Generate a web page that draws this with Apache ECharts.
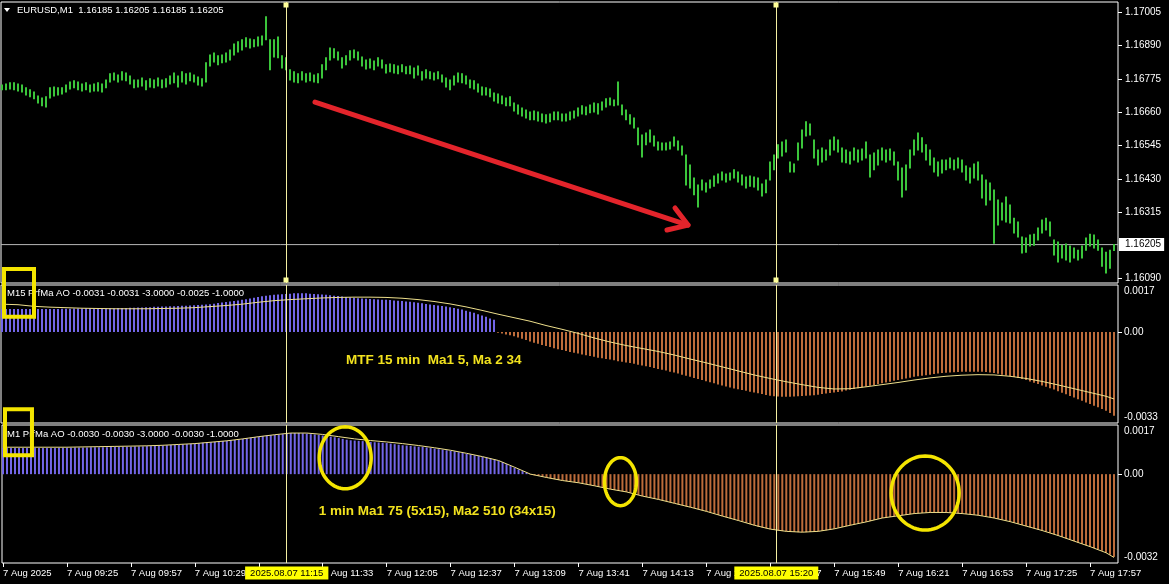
<!DOCTYPE html>
<html><head><meta charset="utf-8">
<script src="https://cdn.jsdelivr.net/npm/echarts@6/dist/echarts.min.js"></script>
<style>html,body{margin:0;padding:0;background:#000}#c{width:1169px;height:584px}</style>
</head><body><div id="c"></div>
<script>
// ---------------- DATA ----------------
const symbolTitle = 'EURUSD,M1  1.16185 1.16205 1.16185 1.16205';
const pane2Title = 'M15 PrfMa AO -0.0031 -0.0031 -3.0000 -0.0025 -1.0000';
const pane3Title = 'M1 PrfMa AO -0.0030 -0.0030 -3.0000 -0.0030 -1.0000';
const sessionStart = '08:53';
const barStepMin = 2;
const barHigh = [
1.16754,1.16757,1.16761,1.16761,1.16757,1.16754,1.16744,1.16737,1.16730,1.16716,
1.16709,1.16713,1.16744,1.16747,1.16744,1.16744,1.16754,1.16764,1.16768,1.16764,
1.16757,1.16761,1.16754,1.16757,1.16761,1.16757,1.16771,1.16792,1.16795,1.16788,
1.16799,1.16795,1.16785,1.16771,1.16771,1.16778,1.16768,1.16775,1.16771,1.16778,
1.16771,1.16775,1.16785,1.16795,1.16785,1.16799,1.16792,1.16795,1.16788,1.16781,
1.16775,1.16830,1.16857,1.16864,1.16854,1.16857,1.16864,1.16874,1.16895,1.16902,
1.16909,1.16916,1.16912,1.16909,1.16919,1.16922,1.16988,1.16909,1.16909,1.16919,
1.16854,1.16847,1.16806,1.16799,1.16792,1.16799,1.16792,1.16795,1.16788,1.16792,
1.16823,1.16847,1.16881,1.16878,1.16867,1.16847,1.16854,1.16871,1.16874,1.16867,
1.16850,1.16840,1.16843,1.16836,1.16847,1.16840,1.16823,1.16826,1.16823,1.16819,
1.16823,1.16816,1.16819,1.16812,1.16819,1.16799,1.16806,1.16799,1.16795,1.16799,
1.16788,1.16778,1.16771,1.16785,1.16795,1.16792,1.16785,1.16771,1.16768,1.16757,
1.16747,1.16744,1.16740,1.16726,1.16723,1.16716,1.16709,1.16713,1.16692,1.16685,
1.16675,1.16668,1.16661,1.16664,1.16661,1.16654,1.16651,1.16654,1.16661,1.16661,
1.16654,1.16654,1.16661,1.16664,1.16675,1.16682,1.16678,1.16685,1.16692,1.16689,
1.16695,1.16706,1.16709,1.16702,1.16764,1.16685,1.16668,1.16651,1.16640,1.16606,
1.16582,1.16589,1.16599,1.16578,1.16558,1.16554,1.16554,1.16558,1.16575,1.16561,
1.16544,1.16513,1.16479,1.16434,1.16410,1.16427,1.16417,1.16427,1.16441,1.16448,
1.16455,1.16448,1.16451,1.16462,1.16455,1.16444,1.16437,1.16441,1.16437,1.16434,
1.16413,1.16427,1.16489,1.16513,1.16548,1.16558,1.16565,1.16489,1.16482,1.16554,
1.16599,1.16627,1.16620,1.16565,1.16530,1.16537,1.16530,1.16565,1.16575,1.16565,
1.16537,1.16530,1.16523,1.16537,1.16530,1.16534,1.16558,1.16513,1.16520,1.16530,
1.16537,1.16530,1.16534,1.16523,1.16489,1.16468,1.16479,1.16530,1.16565,1.16589,
1.16572,1.16548,1.16530,1.16503,1.16489,1.16496,1.16496,1.16503,1.16496,1.16503,
1.16496,1.16475,1.16468,1.16482,1.16489,1.16444,1.16427,1.16417,1.16393,1.16358,
1.16348,1.16369,1.16341,1.16296,1.16283,1.16231,1.16228,1.16238,1.16241,1.16262,
1.16290,1.16296,1.16283,1.16221,1.16214,1.16203,1.16207,1.16200,1.16193,1.16186,
1.16200,1.16228,1.16241,1.16238,1.16221,1.16193,1.16179,1.16186,1.16205];
const barLow = [
1.16737,1.16737,1.16740,1.16737,1.16733,1.16730,1.16719,1.16713,1.16706,1.16692,
1.16682,1.16678,1.16709,1.16716,1.16719,1.16723,1.16730,1.16740,1.16744,1.16737,
1.16733,1.16737,1.16730,1.16733,1.16733,1.16730,1.16744,1.16764,1.16771,1.16764,
1.16771,1.16768,1.16757,1.16744,1.16747,1.16750,1.16737,1.16747,1.16744,1.16750,
1.16744,1.16747,1.16757,1.16761,1.16747,1.16764,1.16757,1.16768,1.16764,1.16754,
1.16750,1.16764,1.16819,1.16833,1.16823,1.16830,1.16833,1.16840,1.16857,1.16867,
1.16874,1.16885,1.16881,1.16885,1.16888,1.16891,1.16909,1.16806,1.16850,1.16847,
1.16812,1.16806,1.16771,1.16764,1.16761,1.16771,1.16764,1.16768,1.16764,1.16761,
1.16778,1.16806,1.16840,1.16847,1.16840,1.16812,1.16823,1.16840,1.16847,1.16840,
1.16819,1.16809,1.16812,1.16806,1.16819,1.16812,1.16795,1.16799,1.16795,1.16792,
1.16799,1.16792,1.16792,1.16778,1.16788,1.16771,1.16778,1.16775,1.16771,1.16775,
1.16764,1.16747,1.16737,1.16754,1.16764,1.16761,1.16757,1.16744,1.16740,1.16730,
1.16719,1.16719,1.16713,1.16699,1.16692,1.16689,1.16682,1.16682,1.16664,1.16654,
1.16647,1.16640,1.16634,1.16634,1.16630,1.16627,1.16623,1.16627,1.16634,1.16634,
1.16630,1.16630,1.16634,1.16640,1.16647,1.16654,1.16651,1.16658,1.16661,1.16654,
1.16668,1.16678,1.16685,1.16682,1.16685,1.16651,1.16634,1.16620,1.16606,1.16548,
1.16506,1.16548,1.16558,1.16544,1.16530,1.16530,1.16530,1.16534,1.16544,1.16530,
1.16513,1.16410,1.16400,1.16376,1.16334,1.16393,1.16386,1.16400,1.16406,1.16417,
1.16427,1.16420,1.16427,1.16434,1.16420,1.16410,1.16400,1.16406,1.16403,1.16393,
1.16372,1.16383,1.16427,1.16462,1.16503,1.16510,1.16523,1.16455,1.16455,1.16496,
1.16537,1.16578,1.16582,1.16503,1.16479,1.16489,1.16496,1.16513,1.16530,1.16523,
1.16489,1.16486,1.16482,1.16496,1.16489,1.16496,1.16503,1.16437,1.16462,1.16479,
1.16496,1.16489,1.16496,1.16479,1.16427,1.16369,1.16393,1.16468,1.16513,1.16530,
1.16523,1.16496,1.16479,1.16455,1.16441,1.16451,1.16462,1.16468,1.16462,1.16468,
1.16455,1.16427,1.16417,1.16434,1.16427,1.16365,1.16341,1.16358,1.16210,1.16272,
1.16290,1.16283,1.16279,1.16245,1.16231,1.16176,1.16179,1.16200,1.16203,1.16221,
1.16245,1.16255,1.16235,1.16169,1.16145,1.16159,1.16152,1.16145,1.16159,1.16152,
1.16159,1.16186,1.16200,1.16193,1.16186,1.16131,1.16107,1.16124,1.16185];
const lastPrice = 1.16205;
const priceTicks = [1.16090, 1.16315, 1.16430, 1.16545, 1.16660, 1.16775, 1.16890, 1.17005];

// M15 (multi-timeframe) oscillator, one histogram value per price bar
const m15Hist = [
0.00085,0.00085,0.00085,0.00085,0.00085,0.00085,0.00085,0.00085,
0.00085,0.00085,0.00085,0.00085,0.00085,0.00085,0.00085,
0.00086,0.00086,0.00086,0.00087,0.00087,0.00087,0.00088,0.00088,
0.00088,0.00088,0.00088,0.00088,0.00088,0.00088,0.00089,
0.00089,0.00089,0.00090,0.00090,0.00091,0.00091,0.00092,0.00092,
0.00093,0.00093,0.00094,0.00094,0.00095,0.00095,0.00096,
0.00097,0.00097,0.00098,0.00099,0.00100,0.00101,0.00102,0.00103,
0.00105,0.00107,0.00109,0.00111,0.00113,0.00115,0.00117,
0.00119,0.00121,0.00124,0.00127,0.00130,0.00132,0.00134,0.00136,
0.00138,0.00139,0.00140,0.00141,0.00142,0.00143,0.00143,
0.00143,0.00143,0.00142,0.00141,0.00140,0.00139,0.00138,0.00136,
0.00134,0.00133,0.00131,0.00130,0.00128,0.00127,0.00125,
0.00124,0.00123,0.00122,0.00121,0.00120,0.00119,0.00119,0.00118,
0.00117,0.00116,0.00115,0.00113,0.00112,0.00110,0.00108,
0.00106,0.00104,0.00102,0.00100,0.00098,0.00096,0.00094,0.00092,
0.00089,0.00086,0.00083,0.00079,0.00075,0.00071,0.00066,
0.00061,0.00056,0.00050,0.00045,
-0.00003,-0.00006,-0.00009,-0.00012,
-0.00016,-0.00020,-0.00025,-0.00030,-0.00035,-0.00040,-0.00044,
-0.00048,-0.00052,-0.00056,-0.00060,-0.00064,-0.00067,-0.00070,
-0.00074,-0.00077,-0.00080,-0.00083,-0.00086,-0.00089,-0.00092,-0.00095,
-0.00097,-0.00100,-0.00102,-0.00105,-0.00108,-0.00110,-0.00113,
-0.00115,-0.00118,-0.00121,-0.00124,-0.00127,-0.00130,-0.00133,-0.00137,
-0.00140,-0.00143,-0.00147,-0.00150,-0.00154,-0.00158,-0.00162,
-0.00166,-0.00170,-0.00174,-0.00178,-0.00182,-0.00186,-0.00190,-0.00194,
-0.00198,-0.00202,-0.00206,-0.00209,-0.00212,-0.00215,-0.00218,
-0.00221,-0.00224,-0.00227,-0.00230,-0.00233,-0.00236,-0.00238,-0.00239,
-0.00240,-0.00240,-0.00240,-0.00239,-0.00238,-0.00237,-0.00236,
-0.00235,-0.00234,-0.00232,-0.00230,-0.00228,-0.00226,-0.00224,-0.00222,
-0.00220,-0.00217,-0.00214,-0.00211,-0.00208,-0.00205,-0.00202,
-0.00199,-0.00196,-0.00193,-0.00190,-0.00187,-0.00184,-0.00181,-0.00178,
-0.00175,-0.00172,-0.00169,-0.00166,-0.00164,-0.00162,-0.00160,
-0.00158,-0.00156,-0.00154,-0.00152,-0.00151,-0.00150,-0.00149,-0.00148,
-0.00147,-0.00147,-0.00147,-0.00147,-0.00147,-0.00147,-0.00148,
-0.00150,-0.00152,-0.00155,-0.00158,-0.00161,-0.00164,-0.00167,-0.00170,
-0.00174,-0.00178,-0.00183,-0.00188,-0.00193,-0.00198,-0.00203,
-0.00208,-0.00213,-0.00219,-0.00225,-0.00231,-0.00237,-0.00243,-0.00249,
-0.00255,-0.00261,-0.00267,-0.00273,-0.00279,-0.00285,-0.00292,-0.00300,-0.00310];
const m15LineStepMin = 8;
const m15Line = [0.00103,0.00101,0.00095,0.00092,0.00090,0.00088,0.00087,0.00086,0.00086,0.00086,
 0.00087,0.00088,0.00090,0.00094,0.00098,0.00103,0.00110,0.00116,0.00120,0.00123,
 0.00126,0.00128,0.00129,0.00129,0.00128,0.00125,0.00120,0.00113,0.00104,0.00093,
 0.00080,0.00066,0.00053,0.00040,0.00024,0.00010,-0.00005,-0.00022,-0.00037,-0.00050,
 -0.00061,-0.00072,-0.00085,-0.00100,-0.00114,-0.00129,-0.00144,-0.00159,-0.00172,-0.00184,
 -0.00195,-0.00205,-0.00211,-0.00210,-0.00203,-0.00195,-0.00187,-0.00178,-0.00170,-0.00164,
 -0.00160,-0.00158,-0.00159,-0.00164,-0.00172,-0.00183,-0.00196,-0.00210,-0.00224,-0.00238,-0.00248];

// M1 oscillator histogram: one value per price bar
const m1Hist = [
0.00094,0.00094,0.00094,0.00094,0.00094,0.00094,0.00094,0.00094,0.00094,0.00094,0.00094,0.00094,
0.00094,0.00094,0.00095,0.00095,0.00095,0.00095,0.00096,0.00096,0.00096,0.00096,0.00097,0.00097,0.00097,
0.00097,0.00097,0.00098,0.00098,0.00098,0.00099,0.00099,0.00099,0.00100,0.00100,0.00100,0.00101,
0.00101,0.00102,0.00102,0.00103,0.00104,0.00105,0.00105,0.00106,0.00107,0.00108,0.00109,0.00110,0.00111,
0.00113,0.00114,0.00115,0.00116,0.00118,0.00119,0.00120,0.00122,
0.00123,0.00125,0.00127,0.00129,0.00131,0.00133,0.00135,0.00137,
0.00139,0.00140,0.00141,0.00142,0.00144,0.00146,0.00148,
0.00148,0.00148,0.00147,0.00146,0.00144,
0.00143,0.00141,0.00139,0.00137,0.00135,0.00133,0.00130,0.00127,0.00124,
0.00122,0.00121,0.00120,0.00119,0.00118,0.00116,0.00115,0.00114,0.00113,0.00112,0.00110,0.00108,0.00106,
0.00104,0.00103,0.00102,0.00100,0.00099,0.00098,0.00096,0.00094,
0.00092,0.00090,0.00088,0.00086,0.00084,0.00082,0.00079,0.00076,
0.00073,0.00071,0.00068,0.00065,0.00062,0.00059,0.00056,0.00053,
0.00048,0.00043,0.00036,0.00029,0.00023,0.00017,0.00011,0.00005,
-0.00002,-0.00004,-0.00006,-0.00009,-0.00012,-0.00015,-0.00018,-0.00021,
-0.00023,-0.00025,-0.00027,-0.00029,-0.00031,-0.00033,-0.00036,-0.00039,-0.00042,-0.00045,
-0.00048,-0.00051,-0.00054,-0.00057,-0.00059,-0.00061,-0.00064,-0.00067,-0.00071,-0.00075,
-0.00079,-0.00082,-0.00085,-0.00088,-0.00091,-0.00094,-0.00097,-0.00101,-0.00105,-0.00109,
-0.00112,-0.00116,-0.00119,-0.00122,-0.00126,-0.00130,-0.00134,-0.00138,-0.00142,-0.00147,
-0.00151,-0.00155,-0.00159,-0.00163,-0.00167,-0.00171,-0.00175,-0.00180,-0.00184,-0.00189,
-0.00192,-0.00195,-0.00198,-0.00201,-0.00203,-0.00205,-0.00206,-0.00207,-0.00208,-0.00209,
-0.00209,-0.00209,-0.00208,-0.00207,-0.00206,-0.00204,-0.00202,-0.00200,-0.00197,-0.00193,
-0.00190,-0.00187,-0.00184,-0.00181,-0.00178,-0.00175,-0.00172,-0.00169,-0.00165,-0.00161,
-0.00158,-0.00156,-0.00154,-0.00152,-0.00150,-0.00148,-0.00146,-0.00144,-0.00142,-0.00141,
-0.00140,-0.00139,-0.00138,-0.00137,-0.00137,-0.00137,-0.00138,-0.00139,-0.00140,-0.00141,
-0.00142,-0.00143,-0.00144,-0.00146,-0.00148,-0.00150,-0.00152,-0.00155,-0.00158,-0.00161,
-0.00164,-0.00167,-0.00171,-0.00175,-0.00179,-0.00183,-0.00187,-0.00191,-0.00195,-0.00199,
-0.00203,-0.00207,-0.00211,-0.00216,-0.00221,-0.00226,-0.00231,-0.00236,-0.00241,-0.00246,
-0.00251,-0.00256,-0.00261,-0.00266,-0.00271,-0.00276,-0.00283,-0.00290,-0.00298];
const m1LineStepMin = 8;
const m1Line = [0.00097,0.00097,0.00097,0.00097,0.00097,0.00098,0.00099,0.00100,0.00101,0.00102,
 0.00104,0.00107,0.00110,0.00115,0.00120,0.00127,0.00135,0.00142,0.00148,0.00148,
 0.00143,0.00135,0.00127,0.00121,0.00116,0.00110,0.00103,0.00095,0.00086,0.00075,
 0.00063,0.00049,0.00025,0.00000,-0.00012,-0.00023,-0.00031,-0.00042,-0.00054,-0.00064,
 -0.00079,-0.00091,-0.00105,-0.00119,-0.00134,-0.00151,-0.00167,-0.00184,-0.00198,-0.00206,
 -0.00209,-0.00206,-0.00197,-0.00184,-0.00172,-0.00158,-0.00150,-0.00142,-0.00138,-0.00138,
 -0.00142,-0.00148,-0.00158,-0.00171,-0.00187,-0.00203,-0.00221,-0.00241,-0.00261,-0.00283,-0.00300];

const pane2Ticks = [-0.0033, 0, 0.0017];
const pane3Ticks = [-0.0032, 0, 0.0017];
const timeTickTimes = ['08:53','09:25','09:57','10:29','11:01','11:33','12:05','12:37','13:09','13:41','14:13','14:45','15:17','15:49','16:21','16:53','17:25','17:57'];
const timeTickLabels = ['7 Aug 2025','7 Aug 09:25','7 Aug 09:57','7 Aug 10:29','7 Aug 11:01','7 Aug 11:33','7 Aug 12:05','7 Aug 12:37','7 Aug 13:09','7 Aug 13:41','7 Aug 14:13','7 Aug 14:45','7 Aug 15:17','7 Aug 15:49','7 Aug 16:21','7 Aug 16:53','7 Aug 17:25','7 Aug 17:57'];
const markedTimes = ['11:15','15:20'];
const markedLabels = ['2025.08.07 11:15','2025.08.07 15:20'];
const note1 = 'MTF 15 min  Ma1 5, Ma 2 34';
const note2 = '1 min Ma1 75 (5x15), Ma2 510 (34x15)';

// ---------------- BUILD ----------------
const FONT = '"Liberation Sans", Arial, sans-serif';
const toMin = t => { const a = t.split(':').map(Number), b = sessionStart.split(':').map(Number); return a[0]*60 + a[1] - (b[0]*60 + b[1]); };
const lastBarMin = (barHigh.length - 1) * barStepMin;
const priceBars = barHigh.map((h, k) => [k * barStepMin, h, barLow[k]]);
const m15BarHist = m15Hist.map((v, k) => [k * barStepMin, v]);
const m15LinePts = m15Line.map((v, j) => [Math.min(j * m15LineStepMin, lastBarMin), v]);
const m1BarHist = m1Hist.map((v, k) => [k * barStepMin, v]);
const m1LinePts = m1Line.map((v, j) => [Math.min(j * m1LineStepMin, lastBarMin), v]);
const tickMins = timeTickTimes.map(toMin);
const markedMins = markedTimes.map(toMin);

const BLUE = '#7366e8', ORANGE = '#bd6c3b', LINEC = '#efe08c', VLINE = '#f4efa2';
const vLines = markedMins.map(m => ({ xAxis: m }));
const markV = { symbol: 'none', silent: true, animation: false, label: { show: false },
  lineStyle: { color: VLINE, width: 1, type: 'solid' }, data: vLines };

const noLine = { show: false, onZero: false };
const xBase = { type: 'value', min: -0.5, max: 558, show: false, axisLine: noLine };
const chart = echarts.init(document.getElementById('c'), null, { renderer: 'canvas' });
const gridBase = { left: 1, right: 51, show: true, borderColor: '#ffffff', borderWidth: 1, backgroundColor: 'transparent' };
const option = {
  backgroundColor: '#000', animation: false,
  grid: [
    Object.assign({ top: 2, height: 281 }, gridBase),
    Object.assign({ top: 285, height: 138 }, gridBase),
    Object.assign({ top: 425, height: 138 }, gridBase)
  ],
  xAxis: [
    Object.assign({ gridIndex: 0 }, xBase),
    Object.assign({ gridIndex: 1 }, xBase),
    { type: 'value', gridIndex: 2, min: -0.5, max: 558, position: 'bottom',
      axisLine: noLine, splitLine: { show: false },
      axisTick: { show: true, customValues: tickMins, length: 4, lineStyle: { color: '#fff' } },
      axisLabel: { show: true, customValues: tickMins, color: '#fff', fontSize: 9.5, fontFamily: FONT, align: 'left', margin: 5,
        formatter: v => timeTickLabels[tickMins.indexOf(v)] || '' } }
  ],
  yAxis: [
    { type: 'value', gridIndex: 0, position: 'right', min: 1.16073, max: 1.17039, scale: true,
      axisLine: noLine, splitLine: { show: false },
      axisTick: { show: true, customValues: priceTicks, length: 4, lineStyle: { color: '#fff' } },
      axisLabel: { show: true, customValues: priceTicks, color: '#fff', fontSize: 10, fontFamily: FONT, margin: 7,
        formatter: v => v.toFixed(5) } },
    { type: 'value', gridIndex: 1, position: 'right', min: -0.00337, max: 0.00174,
      axisLine: noLine, splitLine: { show: false }, axisLabel: { show: false },
      axisTick: { show: true, customValues: [0], length: 4, lineStyle: { color: '#fff' } } },
    { type: 'value', gridIndex: 2, position: 'right', min: -0.0032, max: 0.00177,
      axisLine: noLine, splitLine: { show: false }, axisLabel: { show: false },
      axisTick: { show: true, customValues: [0], length: 4, lineStyle: { color: '#fff' } } }
  ],
  series: [
    { type: 'line', xAxisIndex: 0, yAxisIndex: 0, data: [[-0.5, lastPrice], [558, lastPrice]], symbol: 'none',
      lineStyle: { color: '#b8b8b8', width: 1 }, z: 1, silent: true, markLine: markV },
    { type: 'custom', xAxisIndex: 0, yAxisIndex: 0, data: priceBars, clip: true, z: 2,
      renderItem: (params, api) => {
        const a = api.coord([api.value(0), api.value(1)]);
        const b = api.coord([api.value(0), api.value(2)]);
        return { type: 'line', shape: { x1: a[0], y1: a[1] - 0.5, x2: b[0], y2: b[1] + 0.5 },
          style: { stroke: '#3bc53b', lineWidth: 2 } };
      } },
    { type: 'bar', xAxisIndex: 1, yAxisIndex: 1, data: m15BarHist, barWidth: 2,
      itemStyle: { color: p => p.value[1] >= 0 ? BLUE : ORANGE }, markLine: markV, z: 2 },
    { type: 'line', xAxisIndex: 1, yAxisIndex: 1, data: m15LinePts, symbol: 'none',
      lineStyle: { color: LINEC, width: 1 }, z: 3 },
    { type: 'bar', xAxisIndex: 2, yAxisIndex: 2, data: m1BarHist, barWidth: 2,
      itemStyle: { color: p => p.value[1] >= 0 ? BLUE : ORANGE }, markLine: markV, z: 2 },
    { type: 'line', xAxisIndex: 2, yAxisIndex: 2, data: m1LinePts, symbol: 'none',
      lineStyle: { color: LINEC, width: 1 }, z: 3 }
  ]
};
chart.setOption(option);

// ---------------- OVERLAYS (anchored in data coordinates) ----------------
const P = (g, x, y) => chart.convertToPixel({ gridIndex: g }, [x, y]);
const gr0 = chart.getModel().getComponent('grid', 0).coordinateSystem.getRect();
const gr1 = chart.getModel().getComponent('grid', 1).coordinateSystem.getRect();
const gr2 = chart.getModel().getComponent('grid', 2).coordinateSystem.getRect();
const els = [];
const txt = (x, y, text, o) => els.push({ type: 'text', x, y, z: 100, silent: true,
  style: Object.assign({ text, fill: '#fff', font: '9.5px ' + FONT, textAlign: 'left', align: 'left',
    textVerticalAlign: 'middle', verticalAlign: 'middle' }, o || {}) });

// pane headers
els.push({ type: 'polygon', z: 100, shape: { points: [[4, 8], [10, 8], [7, 12]] }, style: { fill: '#fff' } });
txt(17, 10, symbolTitle);
txt(7, 293, pane2Title);
txt(7, 434, pane3Title);

// current price box on the price axis
const lp = P(0, 0, lastPrice);
txt(gr0.x + gr0.width + 1, lp[1], lastPrice.toFixed(5), { fill: '#000', backgroundColor: '#fff',
  padding: [2, 3, 1, 6], font: '10px ' + FONT });

// indicator axis labels
const yLab = (g, rect, ticks) => ticks.forEach((v, i) => {
  const y = P(g, 0, v)[1];
  const va = i === 2 ? 'top' : (i === 0 ? 'bottom' : 'middle');
  const yy = i === 2 ? rect.y + 1 : (i === 0 ? rect.y + rect.height - 1 : y);
  txt(rect.x + rect.width + 6, yy, v === 0 ? '0.00' : v.toFixed(4),
    { textVerticalAlign: va, verticalAlign: va, font: '10px ' + FONT });
});
yLab(1, gr1, pane2Ticks);
yLab(2, gr2, pane3Ticks);

// vertical-line anchor squares
markedMins.forEach(m => {
  const x = P(0, m, lastPrice)[0];
  [gr0.y + 3, gr0.y + gr0.height - 3].forEach(y =>
    els.push({ type: 'rect', z: 100, shape: { x: x - 2.5, y: y - 2.5, width: 5, height: 5 }, style: { fill: '#ffff99' } }));
});
// highlighted time labels
markedMins.forEach((m, i) => {
  const x = P(2, m, 0)[0];
  txt(x, gr2.y + gr2.height + 10, markedLabels[i], { fill: '#000', backgroundColor: '#ffff00',
    padding: [2, 5, 1, 5], textAlign: 'center', align: 'center' });
});

// red arrow (drawn on the price pane)
const arrowPts = [[156.5, 1.16695], [343, 1.16272]];
const arrowHead = [[332.5, 1.16255], [343, 1.16272], [336.5, 1.16331]];
els.push({ type: 'polyline', z: 90, shape: { points: arrowPts.map(p => P(0, p[0], p[1])) },
  style: { stroke: '#e3242b', lineWidth: 5, lineCap: 'round', fill: null } });
els.push({ type: 'polyline', z: 90, shape: { points: arrowHead.map(p => P(0, p[0], p[1])) },
  style: { stroke: '#e3242b', lineWidth: 5, lineCap: 'round', lineJoin: 'round', fill: null } });

// yellow boxes around the indicator labels
const YEL = '#f4e500';
const box = (g, m0, m1, v0, v1) => {
  const a = P(g, m0, v0), b = P(g, m1, v1);
  els.push({ type: 'rect', z: 110, shape: { x: a[0], y: a[1], width: b[0] - a[0], height: b[1] - a[1] },
    style: { stroke: YEL, lineWidth: 4, fill: null } });
};
box(1, 1, 16, 0.00233, 0.00056);
box(2, 1, 14.5, 0.00234, 0.00068);

// yellow ellipses on the M1 pane
const ell = (g, m, v, rx, ry) => {
  const c = P(g, m, v), pts = [];
  for (let i = 0; i < 72; i++) { const t = i / 72 * Math.PI * 2; pts.push([c[0] + rx * Math.cos(t), c[1] + ry * Math.sin(t)]); }
  els.push({ type: 'polygon', z: 110, shape: { points: pts }, style: { stroke: YEL, lineWidth: 3.5, fill: null } });
};
ell(2, 171.25, 0.00059, 26, 31);
ell(2, 309, -0.00027, 16, 24);
ell(2, 461.5, -0.00068, 34, 37);

// notes
const n1 = P(1, 172, -0.00104), n2 = P(2, 158, -0.00133);
txt(n1[0], n1[1], note1, { fill: '#f2e21e', font: 'bold 13.5px ' + FONT });
txt(n2[0], n2[1], note2, { fill: '#f2e21e', font: 'bold 13.5px ' + FONT });

chart.setOption({ graphic: { elements: els } });
</script>
</body></html>
